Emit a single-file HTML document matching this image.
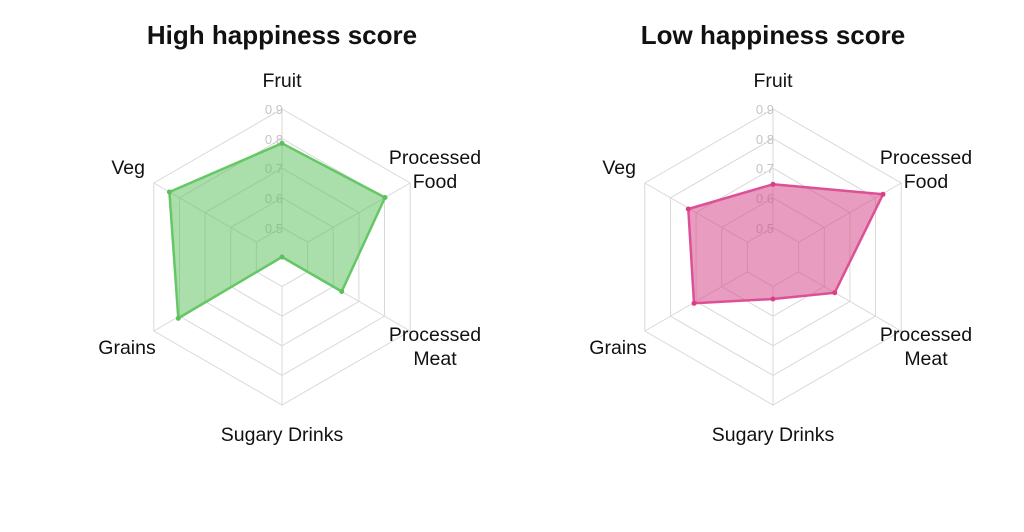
<!DOCTYPE html>
<html><head><style>body{margin:0;background:#fff}svg{display:block}</style></head><body>
<svg width="1024" height="532" xmlns="http://www.w3.org/2000/svg" font-family="Liberation Sans, sans-serif">
<defs>
<g id="grid" fill="none" stroke="#d9d9d9" stroke-width="1">
<polygon points="0,-29.6 25.6,-14.8 25.6,14.8 0,29.6 -25.6,14.8 -25.6,-14.8"/>
<polygon points="0,-59.2 51.3,-29.6 51.3,29.6 0,59.2 -51.3,29.6 -51.3,-29.6"/>
<polygon points="0,-88.8 76.9,-44.4 76.9,44.4 0,88.8 -76.9,44.4 -76.9,-44.4"/>
<polygon points="0,-118.4 102.5,-59.2 102.5,59.2 0,118.4 -102.5,59.2 -102.5,-59.2"/>
<polygon points="0,-148 128.2,-74 128.2,74 0,148 -128.2,74 -128.2,-74"/>
<line x1="0" y1="-29.6" x2="0" y2="-148"/><line x1="25.6" y1="-14.8" x2="128.2" y2="-74"/>
<line x1="25.6" y1="14.8" x2="128.2" y2="74"/><line x1="0" y1="29.6" x2="0" y2="148"/>
<line x1="-25.6" y1="14.8" x2="-128.2" y2="74"/><line x1="-25.6" y1="-14.8" x2="-128.2" y2="-74"/>
</g>
<g id="ticks" fill="#c4c4c4" font-size="13" text-anchor="end">
<text x="1" y="-24">0.5</text><text x="1" y="-54">0.6</text><text x="1" y="-84">0.7</text><text x="1" y="-113">0.8</text><text x="1" y="-143">0.9</text>
</g>
<g id="labels" font-size="19.5" fill="#111">
<text x="0" y="-170" text-anchor="middle">Fruit</text>
<text x="-137" y="-83" text-anchor="end">Veg</text>
<text x="153" y="-93" text-anchor="middle">Processed</text>
<text x="153" y="-69" text-anchor="middle">Food</text>
<text x="153" y="84" text-anchor="middle">Processed</text>
<text x="153" y="108" text-anchor="middle">Meat</text>
<text x="-155" y="97" text-anchor="middle">Grains</text>
<text x="0" y="184" text-anchor="middle">Sugary Drinks</text>
</g>
</defs>
<text x="282" y="44" text-anchor="middle" font-size="26" font-weight="bold" fill="#111">High happiness score</text>
<text x="773" y="44" text-anchor="middle" font-size="26" font-weight="bold" fill="#111">Low happiness score</text>
<g transform="translate(282,257)">
<use href="#grid"/>
<use href="#ticks"/>
<polygon points="0,-113.7 103,-59.5 59.7,34.5 0,0 -103.7,61.3 -112.6,-65" fill="#5cbf5c" fill-opacity="0.52" stroke="#66c766" stroke-width="2.5" stroke-linejoin="round"/>
<g fill="#5cbf5c"><circle cx="0" cy="-113.7" r="2.5"/><circle cx="103" cy="-59.5" r="2.5"/><circle cx="59.7" cy="34.5" r="2.5"/><circle cx="0" cy="0" r="2.5"/><circle cx="-103.7" cy="61.3" r="2.5"/><circle cx="-112.6" cy="-65" r="2.5"/></g>
<use href="#labels"/>
</g>
<g transform="translate(773,257)">
<use href="#grid"/>
<use href="#ticks"/>
<polygon points="0,-72.7 110,-62.7 61.7,35.7 0,42 -79,46.3 -84.7,-48" fill="#d64a8a" fill-opacity="0.55" stroke="#de5096" stroke-width="2.5" stroke-linejoin="round"/>
<g fill="#d83f87"><circle cx="0" cy="-72.7" r="2.5"/><circle cx="110" cy="-62.7" r="2.5"/><circle cx="61.7" cy="35.7" r="2.5"/><circle cx="0" cy="42" r="2.5"/><circle cx="-79" cy="46.3" r="2.5"/><circle cx="-84.7" cy="-48" r="2.5"/></g>
<use href="#labels"/>
</g>
</svg>
</body></html>
